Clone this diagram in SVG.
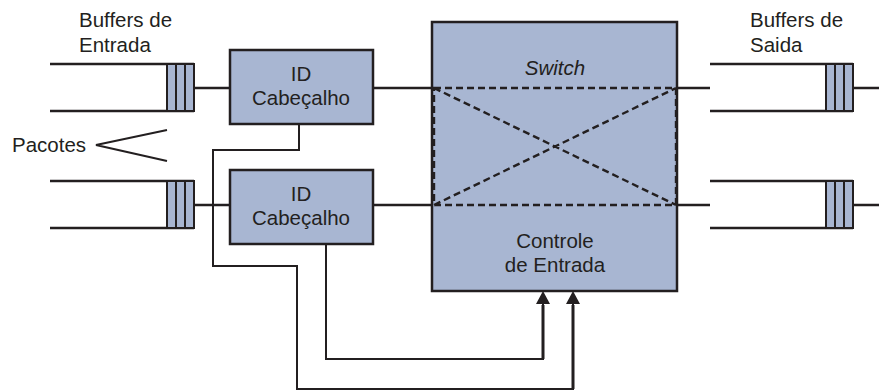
<svg xmlns="http://www.w3.org/2000/svg" width="879" height="391" viewBox="0 0 879 391">
<style>
text{font-family:"Liberation Sans",Arial,sans-serif;font-size:20.5px;fill:#231f20}
.box{fill:#a8b6d2;stroke:#231f20;stroke-width:2.5}
.ln{fill:none;stroke:#231f20;stroke-width:2.5}
.thin{fill:none;stroke:#231f20;stroke-width:2}
.dash{fill:none;stroke:#231f20;stroke-width:2.4;stroke-dasharray:7,4}
.slot{fill:#a8b6d2;stroke:#231f20;stroke-width:2}
</style>
<g id="labels">
<text x="79" y="27">Buffers de</text>
<text x="79" y="52">Entrada</text>
<text x="750" y="27">Buffers de</text>
<text x="750" y="52">Saida</text>
<text x="12" y="152">Pacotes</text>
<path class="thin" d="M167,130 L96,145 L167,161"/>
</g>
<g id="inbuf1">
<path class="ln" d="M50,64 H194 M50,111 H194"/>
<rect class="slot" x="167" y="64" width="27" height="47"/>
<path class="thin" d="M176,64 V111 M185,64 V111"/>
</g>
<g id="inbuf2">
<path class="ln" d="M50,181 H194 M50,228 H194"/>
<rect class="slot" x="167" y="181" width="27" height="47"/>
<path class="thin" d="M176,181 V228 M185,181 V228"/>
</g>
<g id="outbuf1">
<path class="ln" d="M710,64 H853 M710,111 H853"/>
<rect class="slot" x="826" y="64" width="27" height="47"/>
<path class="thin" d="M835,64 V111 M844,64 V111"/>
</g>
<g id="outbuf2">
<path class="ln" d="M710,181 H853 M710,228 H853"/>
<rect class="slot" x="826" y="181" width="27" height="47"/>
<path class="thin" d="M835,181 V228 M844,181 V228"/>
</g>
<g id="connectors">
<path class="ln" d="M194,88 H230 M194,205 H230 M373,88 H433 M373,205 H433 M676,88 H710 M676,205 H710 M853,88 H879 M853,205 H879"/>
<path class="thin" d="M299,124 V150 H213 V266 H297 V389 H573 V302"/>
<path class="thin" d="M326,244 V359 H543 V302"/>
<path d="M536,304 L543,291 L550,304 Z M566,304 L573,291 L580,304 Z" fill="#231f20"/>
<path class="ln" d="M543,305 V359 M573,305 V389" style="stroke-width:3"/>
</g>
<g id="id1">
<rect class="box" x="230" y="50" width="143" height="74"/>
<text x="301" y="81" text-anchor="middle">ID</text>
<text x="301" y="105" text-anchor="middle">Cabeçalho</text>
</g>
<g id="id2">
<rect class="box" x="230" y="170" width="143" height="74"/>
<text x="301" y="201" text-anchor="middle">ID</text>
<text x="301" y="225" text-anchor="middle">Cabeçalho</text>
</g>
<g id="switch">
<rect class="box" x="432" y="22" width="245" height="269"/>
<text x="555" y="75" text-anchor="middle" font-style="italic">Switch</text>
<path class="dash" d="M434,88 H676 V205 H434 Z M434,88 L676,205 M434,205 L676,88"/>
<text x="555" y="248" text-anchor="middle">Controle</text>
<text x="555" y="272" text-anchor="middle">de Entrada</text>
</g>
</svg>
